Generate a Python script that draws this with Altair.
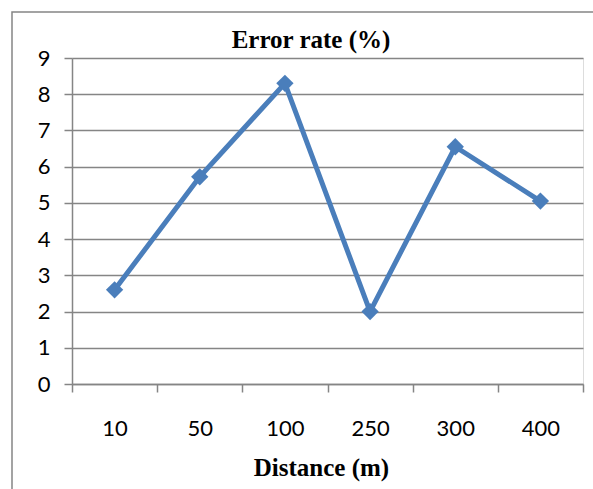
import altair as alt
import pandas as pd

distances = ["10", "50", "100", "250", "300", "400"]
error_rate = [2.6, 5.72, 8.3, 2.0, 6.55, 5.05]
chart_title = "Error rate (%)"

df = pd.DataFrame({"Distance": distances, "Error": error_rate})

LINE = "#4A7EBB"
GRID = "#858585"

base = alt.Chart(df)

line = base.mark_line(
    color=LINE, strokeWidth=5,
    point=alt.OverlayMarkDef(shape="diamond", size=300, filled=True, color=LINE, opacity=1),
).encode(
    x=alt.X("Distance:O", sort=distances, bandPosition=0.5,
            scale=alt.Scale(type="band", paddingInner=0, paddingOuter=0),
            axis=alt.Axis(title="Distance (m)", labelAngle=0, tickBand="extent",
                          domainColor=GRID, domainWidth=1.5, tickColor=GRID, tickWidth=1.5,
                          tickSize=8, labelPadding=26, labelFont="Lato", labelFontSize=22,
                          labelColor="#000000", titleFont="Liberation Serif", titleFontSize=25,
                          titleFontWeight="bold", titleColor="#000000", titlePadding=16,
                          titleX=249, grid=False)),
    y=alt.Y("Error:Q", scale=alt.Scale(domain=[0, 9], nice=False),
            axis=alt.Axis(title=None, values=list(range(10)), grid=True, gridColor=GRID,
                          gridWidth=1.5, domainColor=GRID, domainWidth=1.5, tickColor=GRID,
                          tickWidth=1.5, tickSize=8, labelPadding=14, labelFont="Lato",
                          labelFontSize=22, labelColor="#000000")),
)

border = alt.Chart(alt.Data(values=[{}])).mark_rect(
    fill=None, stroke=GRID, strokeWidth=1.5, clip=False
).encode(
    x=alt.value(-60), x2=alt.value(600), y=alt.value(-46), y2=alt.value(500)
)

title = alt.Chart(alt.Data(values=[{"t": chart_title}])).mark_text(
    font="Liberation Serif", fontSize=25, fontWeight="bold", color="#000000",
    align="center", baseline="alphabetic"
).encode(text="t:N", x=alt.value(239), y=alt.value(-10))

chart = alt.layer(border, line, title).properties(
    width=511, height=326,
    padding={"left": 72, "top": 58, "right": 10, "bottom": 105},
    autosize=alt.AutoSizeParams(type="none"),
).configure_view(stroke=None).configure(background="white")

chart.save("out.html", embed_options={"renderer": "svg", "actions": False})
